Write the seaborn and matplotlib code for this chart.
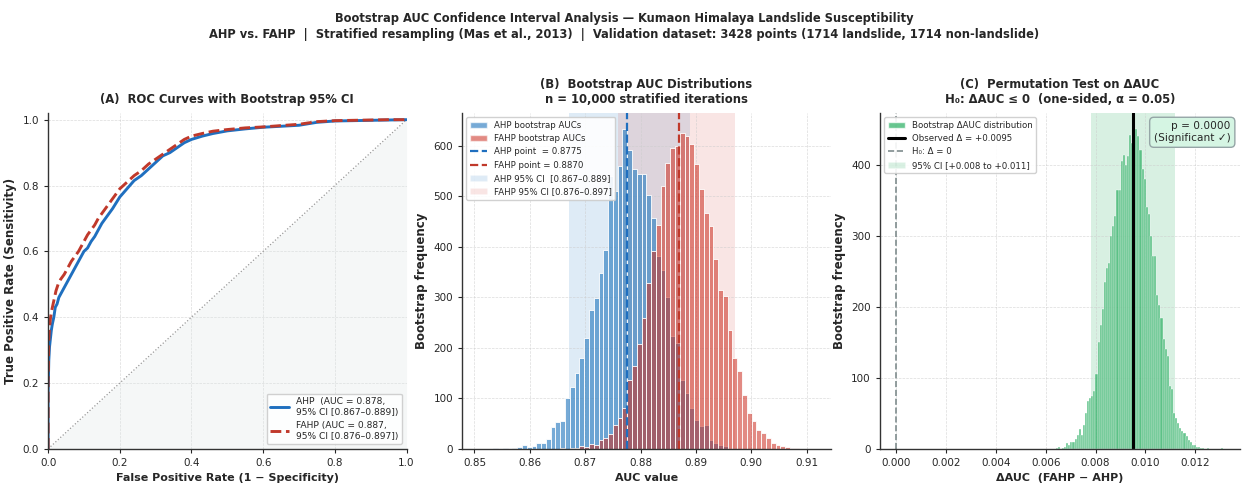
import numpy as np
import pandas as pd
import matplotlib
matplotlib.use("Agg")
import matplotlib.pyplot as plt
from matplotlib.patches import Patch
from matplotlib.lines import Line2D
import seaborn as sns

sns.set_style("ticks")
plt.rcParams["font.family"] = ["DejaVu Sans"]

# ---- Panel A: ROC curves ----
fpr_ahp = [0.0, 0.0, 0.002, 0.004, 0.006, 0.009, 0.012, 0.016, 0.02, 0.025,
           0.03, 0.04, 0.05, 0.06, 0.07, 0.08, 0.09, 0.10, 0.11, 0.12,
           0.13, 0.14, 0.15, 0.16, 0.18, 0.20, 0.22, 0.24, 0.26, 0.28,
           0.30, 0.32, 0.34, 0.36, 0.38, 0.40, 0.43, 0.46, 0.50, 0.55,
           0.60, 0.65, 0.70, 0.75, 0.80, 0.85, 0.90, 0.95, 1.0]
tpr_ahp = [0.0, 0.17, 0.27, 0.31, 0.33, 0.36, 0.38, 0.40, 0.43, 0.44,
           0.46, 0.48, 0.50, 0.52, 0.54, 0.56, 0.58, 0.60, 0.61, 0.63,
           0.645, 0.665, 0.685, 0.70, 0.73, 0.765, 0.79, 0.815, 0.83, 0.85,
           0.87, 0.89, 0.90, 0.915, 0.93, 0.94, 0.95, 0.958, 0.966, 0.972,
           0.977, 0.98, 0.983, 0.992, 0.996, 0.997, 0.998, 0.999, 1.0]
fpr_fahp = [0.0, 0.0, 0.002, 0.004, 0.007, 0.01, 0.014, 0.018, 0.022, 0.028,
            0.035, 0.045, 0.055, 0.065, 0.075, 0.085, 0.10, 0.11, 0.12, 0.13,
            0.14, 0.15, 0.16, 0.18, 0.20, 0.22, 0.24, 0.26, 0.28, 0.30,
            0.32, 0.34, 0.36, 0.38, 0.40, 0.43, 0.46, 0.50, 0.55, 0.60,
            0.65, 0.70, 0.75, 0.80, 0.85, 0.90, 0.95, 1.0]
tpr_fahp = [0.0, 0.20, 0.33, 0.37, 0.40, 0.42, 0.44, 0.46, 0.48, 0.50,
            0.515, 0.53, 0.55, 0.57, 0.585, 0.60, 0.63, 0.65, 0.665, 0.68,
            0.70, 0.715, 0.73, 0.76, 0.79, 0.81, 0.83, 0.845, 0.865, 0.88,
            0.895, 0.91, 0.925, 0.94, 0.95, 0.958, 0.965, 0.97, 0.975, 0.978,
            0.982, 0.986, 0.994, 0.997, 0.998, 0.999, 1.0, 1.0]

# ---- Panel B: bootstrap AUC histograms (70 shared bins) ----
auc_bin_lo, auc_bin_hi = 0.8508, 0.9113
ahp_counts = [0, 0, 0, 1, 0, 1, 0, 2, 3, 7,
              3, 5, 12, 12, 20, 44, 53, 56, 100, 123,
              150, 180, 220, 275, 298, 348, 393, 541, 511, 559,
              633, 592, 553, 544, 544, 503, 457, 382, 355, 300,
              223, 210, 137, 111, 81, 58, 46, 48, 18, 12,
              8, 5, 2, 1, 0, 0, 0, 0, 0, 0,
              0, 0, 0, 0, 0, 0, 0, 0, 0, 0]
fahp_counts = [0, 0, 0, 0, 0, 0, 0, 0, 0, 0,
               0, 0, 0, 0, 0, 0, 0, 2, 0, 1,
               2, 5, 3, 10, 8, 18, 22, 30, 48, 62,
               80, 137, 164, 208, 260, 329, 391, 444, 521, 566,
               596, 599, 625, 620, 604, 564, 515, 467, 441, 375,
               315, 302, 236, 180, 154, 107, 71, 55, 38, 32,
               22, 12, 8, 5, 3, 2, 1, 0, 0, 0]
ahp_point, fahp_point = 0.8775, 0.8870
ahp_ci = (0.867, 0.889)
fahp_ci = (0.876, 0.897)

# ---- Panel C: bootstrap delta-AUC histogram (80 bins) ----
d_bin_lo, d_bin_hi = 0.0064, 0.01313
delta_counts = [1, 2, 0, 1, 3, 8, 6, 9, 9, 14,
                20, 28, 19, 34, 50, 68, 72, 75, 81, 105,
                150, 174, 197, 235, 255, 262, 300, 314, 327, 364,
                364, 405, 413, 400, 412, 441, 430, 387, 450, 440,
                420, 394, 380, 340, 330, 300, 271, 271, 216, 202,
                184, 155, 141, 131, 88, 84, 50, 44, 36, 30,
                25, 22, 18, 12, 9, 6, 5, 3, 2, 1,
                1, 0, 1, 0, 0, 0, 0, 0, 0, 1]
delta_obs = 0.0095
delta_ci = (0.0078, 0.0112)
p_value = 0.0

BLUE = "#1f6fbf"
RED = "#c0392b"
HBLUE = "#2f7fc1"
HRED = "#cc2f22"
GREEN = "#27ae60"

fig = plt.figure(figsize=(12.49, 4.96), dpi=100)
axA = fig.add_axes([0.0385, 0.095, 0.287, 0.677])
axB = fig.add_axes([0.370, 0.095, 0.295, 0.677])
axC = fig.add_axes([0.7045, 0.095, 0.288, 0.677])

xlab_kw = dict(fontsize=8.0, fontweight="bold")
ylab_kw = dict(fontsize=8.5, fontweight="bold")
title_kw = dict(fontsize=8.4, fontweight="bold")

# ---------- (A) ----------
diag = [0.0, 1.0]
axA.fill_between(diag, [0.0, 0.0], diag, color="#dfe6e6", alpha=0.3, lw=0)
axA.plot(diag, diag, ls=":", color="#999999", lw=0.9)
sns.lineplot(x=fpr_ahp, y=tpr_ahp, ax=axA, color=BLUE, lw=2.1,
             estimator=None, sort=False,
             label="AHP  (AUC = 0.878,\n95% CI [0.867\u20130.889])")
sns.lineplot(x=fpr_fahp, y=tpr_fahp, ax=axA, color=RED, lw=2.1, ls="--",
             estimator=None, sort=False,
             label="FAHP (AUC = 0.887,\n95% CI [0.876\u20130.897])")
axA.set_xlim(0, 1)
axA.set_ylim(0, 1.02)
axA.set_yticks(np.arange(0, 1.01, 0.2))
axA.set_xlabel("False Positive Rate (1 \u2212 Specificity)", **xlab_kw)
axA.set_ylabel("True Positive Rate (Sensitivity)", **ylab_kw)
axA.set_title("(A)  ROC Curves with Bootstrap 95% CI", pad=7, **title_kw)
axA.legend(loc="lower right", fontsize=6.6, handlelength=2.0, framealpha=0.9,
           edgecolor="#cccccc")

# ---------- (B) ----------
edges_b = list(np.linspace(auc_bin_lo, auc_bin_hi, len(ahp_counts) + 1))
df_b = pd.DataFrame({"auc": [(a + b) / 2 for a, b in zip(edges_b[:-1], edges_b[1:])],
                     "ahp": ahp_counts, "fahp": fahp_counts})
axB.axvspan(*ahp_ci, color="#5b9bd5", alpha=0.2, lw=0, zorder=0)
axB.axvspan(*fahp_ci, color="#d9544d", alpha=0.15, lw=0, zorder=0)
sns.histplot(data=df_b, x="auc", weights="ahp", bins=edges_b, ax=axB,
             color=HBLUE, alpha=0.66, edgecolor="white", linewidth=0.6)
sns.histplot(data=df_b, x="auc", weights="fahp", bins=edges_b, ax=axB,
             color=HRED, alpha=0.56, edgecolor="white", linewidth=0.6)
axB.axvline(ahp_point, color=BLUE, ls="--", lw=1.6)
axB.axvline(fahp_point, color=RED, ls="--", lw=1.6)
axB.set_xticks([0.85, 0.86, 0.87, 0.88, 0.89, 0.90, 0.91])
axB.set_xlabel("AUC value", **xlab_kw)
axB.set_ylabel("Bootstrap frequency", **ylab_kw)
axB.set_title("(B)  Bootstrap AUC Distributions\nn = 10,000 stratified iterations",
              pad=7, **title_kw)
hB = [Patch(facecolor=HBLUE, alpha=0.66, label="AHP bootstrap AUCs"),
      Patch(facecolor=HRED, alpha=0.56, label="FAHP bootstrap AUCs"),
      Line2D([0], [0], color=BLUE, ls="--", lw=1.6, label=f"AHP point  = {ahp_point:.4f}"),
      Line2D([0], [0], color=RED, ls="--", lw=1.6, label=f"FAHP point = {fahp_point:.4f}"),
      Patch(facecolor="#5b9bd5", alpha=0.2, label=f"AHP 95% CI  [{ahp_ci[0]:.3f}\u2013{ahp_ci[1]:.3f}]"),
      Patch(facecolor="#d9544d", alpha=0.15, label=f"FAHP 95% CI [{fahp_ci[0]:.3f}\u2013{fahp_ci[1]:.3f}]")]
axB.legend(handles=hB, loc="upper left", fontsize=6.2, framealpha=0.9,
           edgecolor="#cccccc", handlelength=2.0)

# ---------- (C) ----------
edges_c = list(np.linspace(d_bin_lo, d_bin_hi, len(delta_counts) + 1))
df_c = pd.DataFrame({"d": [(a + b) / 2 for a, b in zip(edges_c[:-1], edges_c[1:])],
                     "n": delta_counts})
axC.axvspan(*delta_ci, color=GREEN, alpha=0.18, lw=0, zorder=0)
sns.histplot(data=df_c, x="d", weights="n", bins=edges_c, ax=axC,
             color=GREEN, alpha=0.7, edgecolor="white", linewidth=0.25)
axC.axvline(delta_obs, color="black", lw=2.2)
axC.axvline(0, color="#7f8c8d", ls="--", lw=1.2)
axC.set_xticks([0.0, 0.002, 0.004, 0.006, 0.008, 0.010, 0.012])
axC.set_xticklabels(["0.000", "0.002", "0.004", "0.006", "0.008", "0.010", "0.012"])
axC.set_xlabel("\u0394AUC  (FAHP \u2212 AHP)", **xlab_kw)
axC.set_ylabel("Bootstrap frequency", **ylab_kw)
axC.set_title("(C)  Permutation Test on \u0394AUC\nH\u2080: \u0394AUC \u2264 0  (one-sided, \u03b1 = 0.05)",
              pad=7, **title_kw)
hC = [Patch(facecolor=GREEN, alpha=0.7, label="Bootstrap \u0394AUC distribution"),
      Line2D([0], [0], color="black", lw=2.2, label=f"Observed \u0394 = +{delta_obs:.4f}"),
      Line2D([0], [0], color="#7f8c8d", ls="--", lw=1.2, label="H\u2080: \u0394 = 0"),
      Patch(facecolor=GREEN, alpha=0.18, label=f"95% CI [+{delta_ci[0]:.3f} to +{delta_ci[1]:.3f}]")]
axC.legend(handles=hC, loc="upper left", fontsize=6.2, framealpha=0.9,
           edgecolor="#cccccc", handlelength=2.0)
axC.text(0.975, 0.975, f"p = {p_value:.4f}\n(Significant \u2713)", transform=axC.transAxes,
         ha="right", va="top", fontsize=7.6,
         bbox=dict(boxstyle="round,pad=0.4", facecolor="#d5f5e3", edgecolor="#95a5a6"))

for ax in (axA, axB, axC):
    ax.grid(True, ls="--", lw=0.5, color="#cccccc", alpha=0.7)
    ax.set_axisbelow(True)
    ax.tick_params(labelsize=7.5, length=3)
    for s in ("left", "bottom"):
        ax.spines[s].set_color("#333333")
        ax.spines[s].set_linewidth(1.0)
    sns.despine(ax=ax)

fig.suptitle("Bootstrap AUC Confidence Interval Analysis \u2014 Kumaon Himalaya Landslide Susceptibility\n"
             "AHP vs. FAHP  |  Stratified resampling (Mas et al., 2013)  |  "
             "Validation dataset: 3428 points (1714 landslide, 1714 non-landslide)",
             y=0.975, va="top", fontsize=9.2, fontweight="bold", fontstretch="condensed",
             linespacing=1.25)

fig.savefig("out.png", dpi=100)
